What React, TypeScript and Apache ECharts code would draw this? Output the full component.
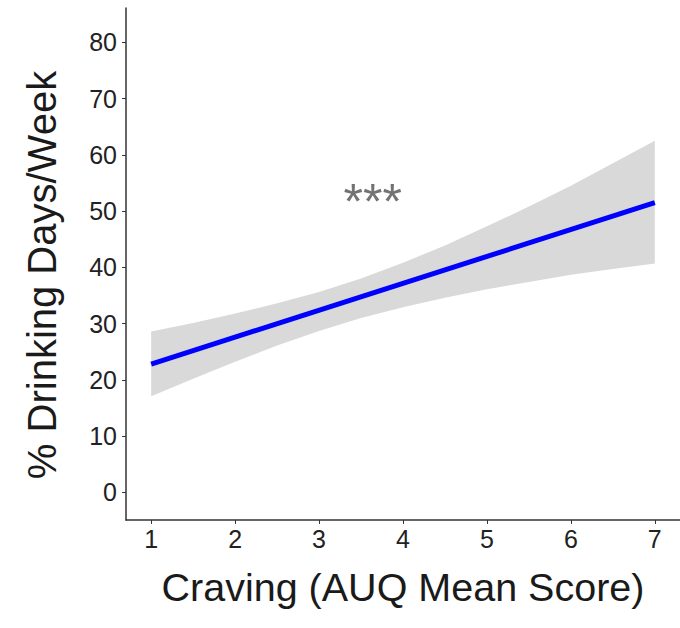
import React, { useEffect, useRef } from "react";
import * as echarts from "echarts";

// Fitted regression line endpoints (Craving score, % drinking days/week)
const lineX = [1, 7];
const lineY = [22.8, 51.5];

// Confidence band
const bandX = [1, 1.5, 2, 2.5, 3, 3.5, 4, 4.5, 5, 5.5, 6, 6.5, 7];
const bandUpper = [28.6, 30.1, 31.8, 33.6, 35.6, 38.0, 40.8, 43.9, 47.3, 50.8, 54.5, 58.5, 62.5];
const bandLower = [17.1, 20.2, 23.2, 26.1, 28.7, 31.0, 32.9, 34.6, 36.1, 37.4, 38.7, 39.7, 40.7];

// Tick labels
const xTicks = [1, 2, 3, 4, 5, 6, 7];
const yTicks = [0, 10, 20, 30, 40, 50, 60, 70, 80];

// Significance annotation
const annotText = "***";
const annotPos = [3.64, 52.6];

const FONT = "'Liberation Sans', Arial, sans-serif";

export default function App() {
  const ref = useRef<HTMLDivElement>(null);

  useEffect(() => {
    if (!ref.current) return;
    const chart = echarts.init(ref.current, null, { renderer: "svg" });

    const axisLine = { show: true, onZero: false, lineStyle: { color: "#333333", width: 1.5 } };
    const tickStyle = { show: true, length: 4, lineStyle: { color: "#333333", width: 1 } };

    chart.setOption({
      animation: false,
      backgroundColor: "#ffffff",
      textStyle: { fontFamily: FONT },
      grid: { left: 126, top: 8, width: 560, height: 512, containLabel: false },
      xAxis: {
        type: "value",
        min: 0.7,
        max: 7.3,
        name: "Craving (AUQ Mean Score)",
        nameLocation: "middle",
        nameGap: 47,
        nameTextStyle: { fontSize: 39.5, color: "#1a1a1a", fontFamily: FONT },
        axisLine,
        splitLine: { show: false },
        axisTick: { ...tickStyle, customValues: xTicks },
        axisLabel: {
          customValues: xTicks,
          fontSize: 25,
          color: "#222222",
          margin: 6,
          fontFamily: FONT,
        },
      },
      yAxis: {
        type: "value",
        min: -4.92,
        max: 86.1,
        name: "% Drinking Days/Week",
        nameLocation: "middle",
        nameGap: 64,
        nameTextStyle: {
          fontSize: 40,
          color: "#1a1a1a",
          fontFamily: FONT,
          padding: [0, 22, 0, 0],
        },
        axisLine,
        splitLine: { show: false },
        axisTick: { ...tickStyle, customValues: yTicks },
        axisLabel: {
          customValues: yTicks,
          fontSize: 25,
          color: "#222222",
          margin: 9,
          fontFamily: FONT,
        },
      },
      series: [
        {
          type: "custom",
          silent: true,
          data: [[bandX[0], bandLower[0]]],
          renderItem: (params: any, api: any) => {
            const pts: number[][] = [];
            for (let i = 0; i < bandX.length; i++) {
              pts.push(api.coord([bandX[i], bandUpper[i]]));
            }
            for (let i = bandX.length - 1; i >= 0; i--) {
              pts.push(api.coord([bandX[i], bandLower[i]]));
            }
            return {
              type: "polygon",
              shape: { points: pts },
              style: { fill: "#d9d9d9", stroke: "none" },
            };
          },
          z: 1,
        },
        {
          type: "line",
          data: lineX.map((x, i) => [x, lineY[i]]),
          symbol: "none",
          lineStyle: { color: "#0000ff", width: 5 },
          z: 2,
        },
        {
          type: "scatter",
          data: [annotPos],
          symbolSize: 0,
          silent: true,
          label: {
            show: true,
            position: "inside",
            formatter: annotText,
            fontSize: 50,
            color: "#505050",
            fontFamily: FONT,
            offset: [0, 6],
          },
          z: 3,
        },
      ],
    });

    return () => chart.dispose();
  }, []);

  return (
    <div
      ref={ref}
      style={{ position: "absolute", left: 0, top: 0, width: 680, height: 628 }}
    />
  );
}
